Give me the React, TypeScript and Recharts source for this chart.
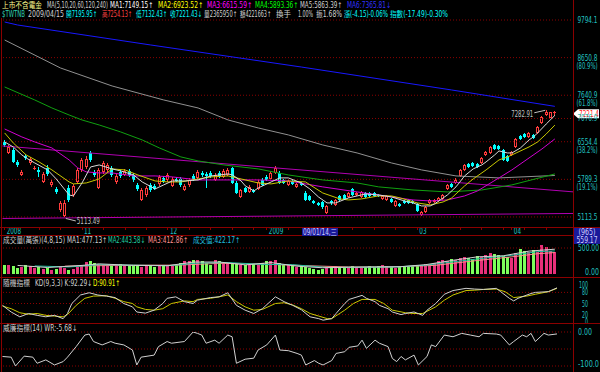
import React from 'react';
import { ComposedChart, Bar, Line, XAxis, YAxis, ReferenceLine, ReferenceDot } from 'recharts';

// daily bars, 2008/10/07 .. 2009/04/15 (129 sessions)
const OPEN = [
  6550, 6316, 6379, 6132, 5874, 6254, 6111, 5992, 5972, 5740,
  6012, 5684, 5609, 5233, 5131, 5628, 5499, 5740, 5972, 6031,
  6316, 5933, 5628, 5933, 5972, 6012, 5740, 5933, 5874, 5952,
  5874, 5684, 5409, 5499, 5684, 5665, 5703, 5817, 5778, 5665,
  5797, 5797, 5590, 5684, 5855, 5817, 5913, 5894, 5913, 5778,
  5913, 5836, 5874, 6012, 5721, 5463, 5628, 5554, 5590, 5609,
  5778, 5836, 5797, 5913, 5913, 5778, 5684, 5759, 5647, 5721,
  5535, 5481, 5391, 5356, 5373, 5182, 5391, 5321, 5481, 5499,
  5463, 5609, 5499, 5463, 5535, 5535, 5535, 5499, 5427, 5409,
  5427, 5303, 5338, 5391, 5409, 5391, 5338, 5148, 5199, 5356,
  5373, 5391, 5427, 5609, 5703, 5721, 5855, 5972, 6091, 6111,
  6091, 6111, 6275, 6316, 6485, 6464, 6379, 6254, 6275, 6443,
  6681, 6725, 6659, 6703, 6747, 6973, 7159, 7089, 7195.95,
];
const HIGH = [
  6593, 6485, 6421, 6172, 5972, 6295, 6234, 6051, 6031, 5933,
  6071, 5778, 5647, 5391, 5409, 5684, 5703, 6012, 6213, 6254,
  6358, 5972, 6012, 6152, 6111, 6051, 5894, 5972, 5992, 5992,
  5913, 5721, 5628, 5665, 5721, 5703, 5874, 5855, 5913, 5836,
  5836, 5836, 5703, 5817, 5894, 5972, 5952, 5933, 5952, 5913,
  5952, 5992, 6012, 6031, 5759, 5609, 5647, 5684, 5609, 5778,
  5817, 5874, 5952, 6051, 5952, 5797, 5797, 5778, 5721, 5740,
  5572, 5499, 5409, 5373, 5391, 5321, 5409, 5427, 5499, 5517,
  5554, 5628, 5554, 5572, 5554, 5554, 5554, 5517, 5499, 5499,
  5445, 5409, 5356, 5409, 5427, 5409, 5356, 5216, 5303, 5427,
  5427, 5463, 5517, 5703, 5721, 5817, 5992, 6091, 6111, 6132,
  6111, 6234, 6358, 6464, 6507, 6485, 6400, 6275, 6358, 6637,
  6703, 6747, 6769, 6725, 6904, 7136, 7282.91, 7240, 7254.13,
];
const LOW = [
  6443, 6295, 6111, 6031, 5855, 6172, 6071, 5972, 5836, 5721,
  5855, 5647, 5517, 5199, 5113.49, 5373, 5463, 5703, 5933, 5992,
  6132, 5836, 5609, 5894, 5933, 5836, 5703, 5817, 5855, 5836,
  5740, 5572, 5391, 5463, 5554, 5590, 5665, 5721, 5740, 5647,
  5740, 5647, 5572, 5647, 5759, 5797, 5836, 5628, 5817, 5759,
  5817, 5817, 5855, 5703, 5517, 5445, 5535, 5535, 5535, 5590,
  5665, 5759, 5778, 5894, 5703, 5703, 5665, 5684, 5628, 5665,
  5391, 5391, 5338, 5303, 5251, 5165, 5321, 5303, 5391, 5409,
  5445, 5481, 5481, 5445, 5445, 5463, 5463, 5463, 5409, 5391,
  5356, 5286, 5286, 5338, 5338, 5338, 5199, 5131, 5182, 5338,
  5356, 5373, 5409, 5590, 5628, 5703, 5836, 5952, 6012, 6031,
  6012, 6091, 6254, 6295, 6379, 6379, 6152, 6132, 6254, 6421,
  6593, 6637, 6637, 6615, 6725, 6950, 7136, 7080, 7132.43,
];
const CLOSE = [
  6485, 6443, 6132, 6071, 5933, 6213, 6193, 6012, 5933, 5894,
  5894, 5740, 5554, 5356, 5356, 5409, 5665, 5972, 6172, 6193,
  6172, 5874, 5972, 6111, 6071, 5874, 5855, 5855, 5952, 5874,
  5778, 5609, 5590, 5628, 5590, 5609, 5836, 5759, 5874, 5797,
  5759, 5684, 5665, 5778, 5797, 5933, 5874, 5855, 5855, 5874,
  5855, 5952, 5972, 5721, 5535, 5590, 5554, 5647, 5554, 5740,
  5684, 5778, 5913, 6012, 5721, 5721, 5759, 5703, 5703, 5684,
  5409, 5409, 5356, 5321, 5286, 5303, 5356, 5409, 5409, 5427,
  5535, 5499, 5535, 5554, 5463, 5481, 5481, 5481, 5481, 5481,
  5373, 5391, 5303, 5356, 5356, 5356, 5216, 5199, 5286, 5409,
  5409, 5445, 5499, 5684, 5647, 5778, 5972, 6071, 6031, 6051,
  6031, 6213, 6337, 6443, 6400, 6400, 6172, 6152, 6337, 6615,
  6615, 6659, 6747, 6637, 6881, 7112, 7231, 7225.58, 7221.43,
];
const VOLUME = [
  167, 179, 147, 115, 128, 167, 147, 115, 128, 103,
  115, 83, 103, 128, 115, 83, 103, 128, 179, 231,
  244, 212, 192, 179, 167, 147, 179, 192, 167, 147,
  167, 147, 128, 167, 147, 128, 147, 179, 167, 147,
  167, 212, 244, 256, 276, 270, 244, 212, 179, 276,
  244, 212, 192, 212, 192, 179, 167, 179, 192, 179,
  212, 244, 256, 276, 212, 179, 167, 147, 128, 147,
  128, 115, 103, 83, 103, 115, 128, 147, 128, 115,
  128, 147, 128, 115, 128, 147, 128, 147, 167, 147,
  128, 115, 128, 147, 128, 147, 167, 179, 192, 167,
  212, 244, 276, 256, 295, 276, 308, 321, 308, 295,
  340, 321, 372, 404, 385, 372, 340, 321, 308, 404,
  487, 449, 423, 468, 423, 551, 513, 449, 422.17,
];

// averages and indicators at [bar, value] points
const MA5_PTS = [[0, 6550], [2, 6443], [4, 6275], [5, 6213], [7, 6111], [10, 5972], [12, 5797], [15, 5499], [16, 5481], [18, 5721], [20, 6031], [22, 6071], [25, 5992], [27, 5952], [30, 5874], [32, 5740], [35, 5609], [37, 5684], [39, 5759], [42, 5759], [45, 5778], [48, 5855], [52, 5894], [53, 5874], [55, 5759], [56, 5665], [58, 5572], [59, 5628], [62, 5740], [64, 5817], [66, 5817], [69, 5721], [71, 5609], [73, 5463], [75, 5356], [77, 5356], [80, 5445], [82, 5481], [84, 5517], [87, 5499], [90, 5463], [93, 5391], [95, 5356], [97, 5303], [99, 5303], [100, 5338], [103, 5499], [105, 5647], [107, 5855], [109, 5992], [111, 6071], [112, 6132], [114, 6275], [115, 6358], [117, 6316], [118, 6316], [120, 6421], [122, 6593], [123, 6659], [124, 6747], [126, 6950], [128, 7149.15]];
const MA10_PTS = [[0, 6747], [2, 6528], [5, 6275], [8, 6132], [11, 5972], [15, 5740], [16, 5703], [19, 5721], [22, 5797], [25, 5992], [28, 5972], [31, 5874], [35, 5759], [38, 5740], [41, 5740], [45, 5797], [48, 5836], [52, 5855], [55, 5797], [59, 5721], [62, 5703], [66, 5759], [70, 5740], [74, 5535], [78, 5427], [80, 5409], [83, 5427], [87, 5481], [90, 5481], [92, 5445], [96, 5356], [99, 5321], [102, 5373], [104, 5445], [107, 5665], [109, 5797], [112, 5972], [115, 6172], [117, 6234], [119, 6316], [122, 6443], [124, 6550], [126, 6725], [128, 6923.52]];
const MA20_PTS = [[0, 6836], [4, 6659], [7, 6550], [11, 6421], [15, 6172], [17, 6012], [19, 5933], [22, 5913], [25, 5913], [30, 5855], [35, 5855], [39, 5836], [45, 5778], [51, 5778], [59, 5778], [66, 5759], [74, 5647], [82, 5554], [90, 5463], [95, 5409], [99, 5391], [103, 5409], [107, 5481], [110, 5572], [115, 5817], [118, 5972], [122, 6213], [125, 6400], [128, 6615.59]];
const MA60_PTS = [[0, 7852], [7, 7523], [11, 7327], [15, 7159], [18, 7042], [22, 6927], [27, 6769], [32, 6593], [36, 6421], [41, 6234], [45, 6152], [51, 6071], [59, 5992], [66, 5874], [74, 5778], [82, 5721], [87, 5647], [95, 5590], [103, 5554], [111, 5590], [118, 5684], [128, 5893.36]];
const MA120_PTS = [[0, 9169], [13, 8360], [25, 7878], [37, 7523], [45, 7327], [52, 7042], [59, 6859], [66, 6703], [74, 6485], [82, 6316], [90, 6111], [97, 5972], [105, 5855], [115, 5817], [128, 5863.39]];
const MA240_PTS = [[0, 9730], [3, 9634], [34, 9019], [69, 8387], [104, 7775], [128, 7365.81]];

const VMA1_PTS = [[3, 165], [10, 125], [18, 165], [22, 195], [30, 165], [38, 160], [44, 230], [50, 230], [56, 175], [62, 220], [68, 150], [74, 120], [80, 130], [86, 135], [92, 140], [98, 180], [104, 260], [110, 330], [116, 350], [122, 440], [128, 477.13]];
const VMA2_PTS = [[7, 155], [15, 135], [22, 180], [30, 170], [38, 160], [45, 210], [52, 220], [60, 185], [67, 180], [75, 125], [83, 130], [91, 135], [98, 170], [105, 240], [112, 310], [118, 360], [124, 430], [128, 443.58]];
const VMA3_PTS = [[14, 150], [22, 160], [30, 170], [40, 170], [50, 205], [60, 190], [70, 160], [80, 135], [90, 135], [100, 165], [110, 260], [118, 330], [124, 390], [128, 412.86]];

const K_PTS = [[0, 45], [2, 27], [4, 14], [6, 23], [8, 18], [10, 14], [12, 18], [14, 9], [15, 23], [16, 50], [18, 73], [20, 79], [22, 73], [24, 70], [26, 66], [28, 50], [30, 41], [31, 27], [33, 24], [35, 32], [37, 50], [38, 64], [40, 68], [42, 55], [44, 50], [45, 59], [48, 66], [50, 68], [52, 79], [54, 45], [56, 32], [58, 23], [60, 36], [63, 68], [65, 55], [67, 45], [69, 33], [71, 14], [73, 9], [74, 5], [76, 9], [77, 23], [79, 50], [80, 61], [83, 72], [84, 64], [86, 55], [87, 45], [89, 36], [90, 27], [92, 20], [93, 23], [95, 27], [97, 18], [98, 32], [100, 50], [102, 75], [104, 85], [107, 91], [109, 89], [111, 88], [114, 91], [115, 82], [117, 64], [118, 57], [119, 64], [122, 77], [123, 80], [126, 82], [128, 92.29]];
const D_PTS = [[0, 43], [2, 36], [4, 25], [6, 21], [8, 23], [10, 18], [12, 16], [14, 14], [15, 20], [17, 45], [19, 64], [21, 70], [24, 71], [26, 64], [28, 55], [30, 50], [31, 41], [33, 34], [35, 32], [37, 36], [39, 50], [42, 57], [44, 55], [45, 61], [48, 64], [50, 68], [52, 73], [54, 55], [56, 41], [58, 32], [60, 34], [63, 50], [65, 52], [67, 46], [69, 36], [71, 23], [73, 16], [75, 9], [76, 9], [79, 32], [81, 50], [83, 61], [86, 61], [88, 50], [90, 32], [93, 25], [95, 23], [97, 23], [100, 41], [102, 59], [104, 73], [107, 85], [109, 86], [111, 88], [114, 89], [116, 82], [118, 66], [121, 70], [123, 75], [126, 82], [128, 90.91]];
const WR_PTS = [[0, -72], [2, -74], [3, -100], [5, -71], [7, -74], [8, -92], [10, -82], [12, -97], [14, -87], [15, -74], [17, -43], [19, -9], [20, -6], [21, -28], [23, -38], [25, -28], [26, -33], [28, -38], [30, -53], [31, -97], [32, -74], [35, -68], [36, -43], [38, -28], [39, -33], [42, -28], [44, 0], [45, -4], [46, -9], [47, -33], [49, -24], [50, -33], [52, -9], [53, -14], [54, -92], [56, -80], [58, -77], [59, -53], [61, -38], [63, -9], [64, -53], [66, -55], [68, -63], [69, -68], [70, -97], [72, -84], [73, -92], [74, -97], [76, -84], [77, -63], [79, -58], [80, -45], [82, -41], [83, -24], [84, -48], [86, -24], [87, -33], [89, -43], [90, -78], [91, -87], [92, -72], [93, -82], [95, -68], [96, -97], [98, -72], [99, -38], [100, -43], [102, -9], [104, -14], [106, -4], [108, -9], [110, -14], [111, -4], [114, -6], [115, -9], [117, -38], [118, -28], [120, -9], [121, -14], [122, -4], [123, -28], [125, -4], [126, -9], [128, -5.68]];

// axis labels
const PRICE_TICKS = [9794.1, 8650.8, 7640.9, 7076.9, 6554.4, 5789.3, 5113.5];
const PRICE_PCT: Record<string, string> = { '8650.8': '(80.9%)', '7640.9': '(61.8%)', '6554.4': '(38.2%)', '5789.3': '(19.1%)' };
const DATE_TICKS = [0, 3, 8, 13, 18, 23, 28, 33, 38, 43, 48, 53, 58, 61, 66, 71, 76, 81, 86, 91, 96, 101, 106, 111, 116, 118, 121, 126];
const MONTH_LABELS: Record<number, string> = { 0: '2008', 18: '11', 38: '12', 61: '2009', 96: '03', 118: '04' };

const FONT = "'Liberation Sans Narrow','DejaVu Sans Condensed','Liberation Sans','DejaVu Sans','Noto Sans CJK TC',sans-serif";
const CJK = "'Noto Sans CJK TC','Noto Sans CJK SC',sans-serif";
const BORDER = '#8b0000';
const GRID = '#8b0000';
const AXIS = '#20c0c0';
const UP = '#ff3c3c';
const DOWN = '#00ffff';
const VUP = '#e8307a';
const VDN = '#7cff5a';
const TREND = '#b000b0';

const toMap = (pts: number[][]) => new Map(pts.map(([i, v]) => [i, v]));
const SERIES: Record<string, Map<number, number>> = {
  ma5: toMap(MA5_PTS), ma10: toMap(MA10_PTS), ma20: toMap(MA20_PTS),
  ma60: toMap(MA60_PTS), ma120: toMap(MA120_PTS), ma240: toMap(MA240_PTS),
  vma1: toMap(VMA1_PTS), vma2: toMap(VMA2_PTS), vma3: toMap(VMA3_PTS),
  k: toMap(K_PTS), d: toMap(D_PTS), wr: toMap(WR_PTS),
};
const rows = CLOSE.map((c, i) => {
  const r: any = { i, o: OPEN[i], h: HIGH[i], l: LOW[i], c, range: [LOW[i], HIGH[i]], vol: VOLUME[i] };
  for (const key of Object.keys(SERIES)) r[key] = SERIES[key].has(i) ? SERIES[key].get(i) : null;
  return r;
});

function Txt({ x, y, w, color, children, anchor = 'start', size = 8, family = FONT }: any) {
  return (
    <text x={x} y={y} fill={color} fontSize={size} fontFamily={family} textAnchor={anchor}
      textLength={w} lengthAdjust="spacingAndGlyphs">{children}</text>
  );
}

function Candle(props: any) {
  const { x, y, width, height, payload } = props;
  if (!payload || height == null || isNaN(y)) return null;
  const { o, h, l, c } = payload;
  const lh = Math.log(h), ll = Math.log(l);
  const py = (v: number) => (lh === ll ? y : y + ((lh - Math.log(v)) / (lh - ll)) * height);
  const px = Math.floor(x + width / 2);
  const up = c >= o;
  const color = up ? UP : DOWN;
  const top = Math.round(py(Math.max(o, c)));
  const bot = Math.max(Math.round(py(Math.min(o, c))), top + 1);
  return (
    <g shapeRendering="crispEdges">
      <line x1={px + 0.5} x2={px + 0.5} y1={Math.round(y)} y2={Math.round(y + height)} stroke={color} />
      {up
        ? <rect x={px - 0.5} y={top + 0.5} width={2} height={Math.max(bot - top - 1, 0.01)} fill="#000" stroke={color} />
        : <rect x={px - 1} y={top} width={3} height={bot - top} fill={color} />}
    </g>
  );
}

function VolBar(props: any) {
  const { x, y, width, height, payload } = props;
  if (!payload || height == null) return null;
  const px = Math.floor(x + width / 2);
  return <rect x={px - 1} y={y} width={3} height={height} fill={payload.c >= payload.o ? VUP : VDN} shapeRendering="crispEdges" />;
}

function DateTick(props: any) {
  const { x, y, payload } = props;
  const lab = MONTH_LABELS[payload.value];
  const px = Math.floor(x) + 0.5;
  return (
    <g>
      <line x1={px} x2={px} y1={y} y2={y + 3} stroke={BORDER} />
      {lab && <Txt x={x + 2} y={y + 7} w={lab.length * 3.6} color={AXIS}>{lab}</Txt>}
    </g>
  );
}

function PriceTick(props: any) {
  const { y, payload } = props;
  const label = payload.value.toFixed(1);
  const pct = PRICE_PCT[label];
  return (
    <g>
      <Txt x={597.5} y={y + 3} w={label.length * 3.35} color={AXIS} anchor="end">{label}</Txt>
      {pct && <Txt x={597.5} y={y + 11} w={21} color={AXIS} anchor="end">{pct}</Txt>}
    </g>
  );
}

function PriceTag(props: any) {
  const vb = props.viewBox || {};
  const y = vb.y + 1.5;
  const x0 = 573;
  return (
    <g>
      <polygon points={`${x0},${y} ${x0 + 5},${y - 4.5} 599,${y - 4.5} 599,${y + 4.5} ${x0 + 5},${y + 4.5}`} fill="#ffffff" />
      <Txt x={579} y={y + 3} w={20} color="#ff2020">7221.4</Txt>
    </g>
  );
}

function LowNote(props: any) {
  const vb = props.viewBox || {};
  const cx = vb.x + (vb.width || 0) / 2;
  const cy = vb.y + (vb.height || 0) / 2;
  return (
    <g>
      <line x1={cx + 1} y1={cy + 1.5} x2={cx + 11} y2={cy + 4} stroke="#c0c0c0" />
      <Txt x={cx + 12} y={cy + 7.5} w={23} color="#c0c0c0">5113.49</Txt>
    </g>
  );
}

function HighNote(props: any) {
  const vb = props.viewBox || {};
  const cx = vb.x + (vb.width || 0) / 2;
  const cy = vb.y + (vb.height || 0) / 2;
  return (
    <g>
      <line x1={cx - 12} y1={cy + 3} x2={cx - 1} y2={cy + 0.5} stroke="#c0c0c0" />
      <Txt x={cx - 13} y={cy + 7} w={22} color="#c0c0c0" anchor="end">7282.91</Txt>
    </g>
  );
}

const line = (key: string, color: string, y?: string, x?: string) => (
  <Line key={key} dataKey={key} xAxisId={x} yAxisId={y} stroke={color} strokeWidth={1} dot={false}
    connectNulls isAnimationActive={false} type="linear" activeDot={false} />
);

function MainChart() {
  return (
    <div style={{ position: 'absolute', left: 0, top: 0 }}>
      <ComposedChart width={600} height={236} data={rows} margin={{ top: 18, right: 0, bottom: 0, left: 2.5 }}>
        <XAxis xAxisId="c" dataKey="i" type="category" padding={{ left: 0, right: 17 }} height={9}
          ticks={DATE_TICKS} interval={0} tick={DateTick} tickSize={0} tickMargin={0} axisLine={false} tickLine={false} />
        <XAxis xAxisId="n" dataKey="i" type="number" domain={[-0.5, 132.45]} allowDataOverflow hide />
        <YAxis yAxisId="p" orientation="right" width={26} type="number" scale="log" domain={[4947, 9859]}
          allowDataOverflow ticks={PRICE_TICKS} interval={0} tick={PriceTick} tickSize={0} tickMargin={0}
          axisLine={false} tickLine={false} />
        {PRICE_TICKS.map((v) => (
          <ReferenceLine key={v} xAxisId="c" yAxisId="p" y={v} stroke={GRID} strokeDasharray="1 2" />
        ))}
        <ReferenceLine xAxisId="n" yAxisId="p" ifOverflow="visible" stroke={TREND}
          segment={[{ x: -0.5, y: 6464 }, { x: 132.45, y: 5554 }]} />
        <ReferenceLine xAxisId="n" yAxisId="p" ifOverflow="visible" stroke={TREND}
          segment={[{ x: -0.5, y: 5088 }, { x: 132.45, y: 5173 }]} />
        <Bar xAxisId="c" yAxisId="p" dataKey="range" shape={Candle} isAnimationActive={false} />
        {line('ma240', '#1818ff', 'p', 'c')}
        {line('ma120', '#909090', 'p', 'c')}
        {line('ma60', '#10a010', 'p', 'c')}
        {line('ma20', '#d000d0', 'p', 'c')}
        {line('ma10', '#c8c800', 'p', 'c')}
        {line('ma5', '#d8d8d8', 'p', 'c')}
        <ReferenceDot xAxisId="c" yAxisId="p" x={14} y={5113.49} r={1} fill="none" stroke="none" ifOverflow="visible" label={<LowNote />} />
        <ReferenceDot xAxisId="c" yAxisId="p" x={126} y={7282.91} r={1} fill="none" stroke="none" ifOverflow="visible" label={<HighNote />} />
        <ReferenceLine xAxisId="c" yAxisId="p" y={7221.43} stroke="none" label={<PriceTag />} />
      </ComposedChart>
    </div>
  );
}

function VolumeChart() {
  const tick = (p: any) => (
    <Txt x={599} y={p.y + (p.payload.value === 0 ? 1 : 3)} w={p.payload.value.toFixed(2).length * 3.5} color={AXIS} anchor="end">
      {p.payload.value.toFixed(2)}
    </Txt>
  );
  return (
    <div style={{ position: 'absolute', left: 0, top: 236 }}>
      <ComposedChart width={600} height={40} data={rows} margin={{ top: 8, right: 0, bottom: 2, left: 2.5 }}>
        <XAxis dataKey="i" type="category" hide padding={{ left: 0, right: 17 }} />
        <YAxis orientation="right" width={26} type="number" domain={[0, 577]} allowDataOverflow ticks={[0, 500]}
          interval={0} tick={tick} tickSize={0} tickMargin={0} axisLine={false} tickLine={false} />
        <ReferenceLine y={500} stroke={GRID} strokeDasharray="1 2" />
        <Bar dataKey="vol" shape={VolBar} isAnimationActive={false} />
        {line('vma3', '#ff8c8c')}
        {line('vma2', '#20c0a0')}
        {line('vma1', '#d0d0d0')}
      </ComposedChart>
    </div>
  );
}

function KdChart() {
  const tick = (p: any) => (
    <Txt x={588} y={p.y + 3} w={String(p.payload.value).length * 3} color={AXIS} anchor="end">{String(p.payload.value)}</Txt>
  );
  return (
    <div style={{ position: 'absolute', left: 0, top: 278 }}>
      <ComposedChart width={600} height={45} data={rows} margin={{ top: 7, right: 0, bottom: 1, left: 2.5 }}>
        <XAxis dataKey="i" type="category" hide padding={{ left: 0, right: 17 }} />
        <YAxis orientation="right" width={26} type="number" domain={[0, 100]} allowDataOverflow ticks={[0, 20, 50, 80, 100]}
          interval={0} tick={tick} tickSize={0} tickMargin={0} axisLine={false} tickLine={false} />
        {[20, 50, 80].map((v) => <ReferenceLine key={v} y={v} stroke={GRID} strokeDasharray="1 2" />)}
        {line('d', '#c8c800')}
        {line('k', '#d0d0d0')}
      </ComposedChart>
    </div>
  );
}

function WrChart() {
  const tick = (p: any) => {
    const s = p.payload.value === 0 ? '0.00' : '-100.0';
    return <Txt x={578} y={p.y + (p.payload.value === 0 ? 2.5 : 1)} w={s.length * 3.5} color={AXIS}>{s}</Txt>;
  };
  return (
    <div style={{ position: 'absolute', left: 0, top: 323 }}>
      <ComposedChart width={600} height={49} data={rows} margin={{ top: 9, right: 0, bottom: 6, left: 2.5 }}>
        <XAxis dataKey="i" type="category" hide padding={{ left: 0, right: 17 }} />
        <YAxis orientation="right" width={26} type="number" domain={[-100, 0]} allowDataOverflow ticks={[-100, 0]}
          interval={0} tick={tick} tickSize={0} tickMargin={0} axisLine={false} tickLine={false} />
        {[0, -50, -100].map((v) => <ReferenceLine key={v} y={v} stroke={GRID} strokeDasharray="1 2" />)}
        {line('wr', '#d0d0d0')}
      </ComposedChart>
    </div>
  );
}

// header rows: [x, text, colour, width]
const HEADER1: any[] = [
  [2, '上市不含電金', '#ffff90', 40, CJK],
  [47, 'MA(5,10,20,60,120,240)', '#d0d0d0', 61],
  [110, 'MA1:7149.15↑', '#ffffff', 43],
  [158, 'MA2:6923.52↑', '#ffff00', 45],
  [207, 'MA3:6615.59↑', '#ff00ff', 45],
  [255, 'MA4:5893.36↑', '#00ff00', 43],
  [300, 'MA5:5863.39↑', '#d0d0d0', 42],
  [347, 'MA6:7365.81↓', '#3030ff', 44],
];
const HEADER2: any[] = [
  [2, '$TWTNB', '#30d0b0', 23],
  [28, '2009/04/15', '#d0d0d0', 36],
  [66, '開7195.95↑', '#00ffff', 31],
  [102, '高7254.13↑', '#ff4040', 30],
  [136, '低7132.43↑', '#00ffff', 31],
  [170, '收7221.43↓', '#00ffff', 32],
  [204, '量2365950↑', '#d0d0d0', 33],
  [240, '額4221663↑', '#d0d0d0', 31],
  [276, '換手', '#d0d0d0', 15, CJK],
  [298, '1.00%', '#d0d0d0', 15],
  [316, '振1.68%', '#d0d0d0', 26],
  [344, '漲(-4.15)-0.06%', '#00ffff', 44],
  [390, '指數(-17.49)-0.30%', '#00ffff', 58],
];
const VOL_HEAD: any[] = [
  [3, '成交量(萬張)(4,8,15)', '#d0d0d0', 62],
  [67, 'MA1:477.13↑', '#d0d0d0', 40],
  [108, 'MA2:443.58↓', '#20d0a0', 37],
  [148, 'MA3:412.86↑', '#ff9090', 40],
  [193, '成交值:422.17↑', '#20c0e0', 47],
];
const KD_HEAD: any[] = [
  [3, '隨機指標', '#d0d0d0', 27, CJK],
  [35, 'KD(9,3,3) K:92.29↓', '#d0d0d0', 57],
  [93, 'D:90.91↑', '#ffff00', 27],
];
const WR_HEAD: any[] = [[3, '威廉指標(14) WR:-5.68↓', '#d0d0d0', 74]];

function Overlay() {
  const row = (items: any[], y: number) =>
    items.map(([x, t, c, w, fam]) => (
      <Txt key={t} x={x} y={y} w={w} color={c} family={fam || FONT}>{t}</Txt>
    ));
  return (
    <svg width={600} height={372} style={{ position: 'absolute', left: 0, top: 0, pointerEvents: 'none' }}>
      <g stroke={BORDER} strokeWidth={1} shapeRendering="crispEdges">
        <line x1={0} x2={600} y1={227.5} y2={227.5} />
        <line x1={0} x2={600} y1={235.5} y2={235.5} />
        <line x1={0} x2={600} y1={277.5} y2={277.5} />
        <line x1={0} x2={600} y1={323.5} y2={323.5} />
        <line x1={573.5} x2={573.5} y1={0} y2={372} />
        <line x1={1.5} x2={1.5} y1={18} y2={372} />
      </g>
      {row(HEADER1, 8)}
      {row(HEADER2, 17)}
      {row(VOL_HEAD, 243)}
      {row(KD_HEAD, 286)}
      {row(WR_HEAD, 331)}
      <rect x={302} y={228} width={36} height={8} fill="#1a1a9a" />
      <Txt x={303} y={235} w={34} color="#d0d0ff">09/01/14,三</Txt>
      <rect x={574} y={228} width={26} height={8} fill="#1a1a9a" />
      <Txt x={587} y={235} w={17} color="#d0d0ff" anchor="middle">(965)</Txt>
      <rect x={574} y={236} width={26} height={8} fill="#1a1a9a" />
      <Txt x={587} y={243} w={21} color="#d0d0ff" anchor="middle">559.17</Txt>
    </svg>
  );
}

export default function App() {
  return (
    <div style={{ position: 'fixed', left: 0, top: 0, width: 600, height: 372, background: '#000', overflow: 'hidden' }}>
      <MainChart />
      <VolumeChart />
      <KdChart />
      <WrChart />
      <Overlay />
    </div>
  );
}
